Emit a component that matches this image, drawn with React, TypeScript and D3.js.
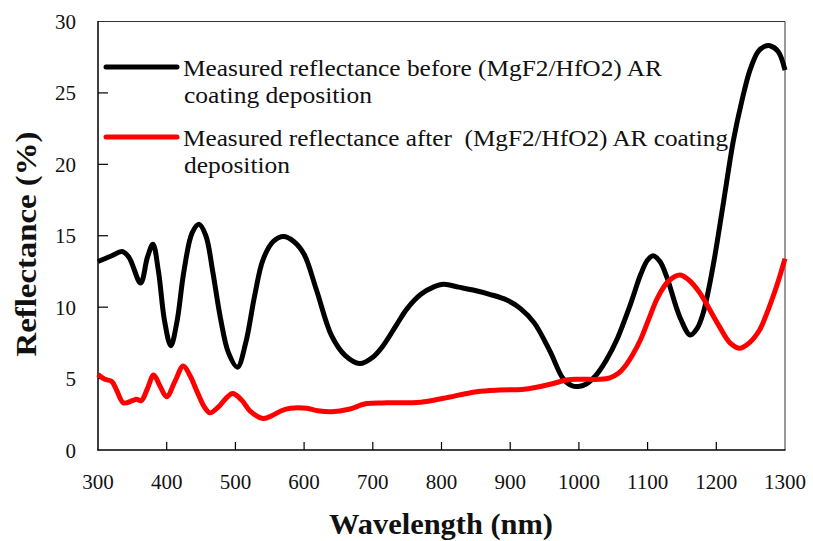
import React from "react";
import * as d3 from "d3";

const W = 813;
const H = 541;

// Wavelength (nm) and reflectance (%) — measured before AR coating
const beforeWl = [300, 320, 335, 345, 362, 372, 380, 388, 397, 406, 415, 425, 437, 447, 457, 467, 478, 490, 503, 515, 528, 540, 555, 570, 585, 600, 618, 640, 660, 681, 700, 715, 735, 750, 770, 788, 803, 825, 846, 870, 895, 915, 935, 958, 977, 990, 999, 1010, 1026, 1040, 1055, 1075, 1090, 1100, 1108, 1118, 1128, 1147, 1162, 1172, 1181, 1195, 1210, 1225, 1237, 1249, 1261, 1270, 1278, 1290, 1300];
const beforeR = [13.2, 13.6, 13.9, 13.5, 11.7, 13.5, 14.4, 12.5, 9.0, 7.3, 9.0, 12.5, 15.2, 15.8, 15.0, 12.5, 9.3, 6.8, 5.8, 7.5, 10.8, 13.3, 14.6, 14.95, 14.6, 13.7, 11.2, 8.0, 6.6, 6.05, 6.5, 7.3, 8.8, 9.9, 10.9, 11.4, 11.6, 11.4, 11.2, 10.9, 10.5, 9.9, 8.9, 6.9, 5.0, 4.5, 4.45, 4.6, 5.3, 6.3, 7.7, 10.2, 12.3, 13.3, 13.6, 13.2, 12.1, 9.3, 8.05, 8.5, 9.6, 12.8, 17.2, 21.7, 24.4, 26.6, 27.9, 28.25, 28.3, 27.9, 26.6];

// measured after AR coating
const afterWl = [300, 310, 320, 327, 337, 350, 356, 363, 372, 381, 390, 400, 412, 424, 434, 445, 455, 463, 475, 486, 496, 509, 522, 540, 555, 567, 580, 604, 620, 640, 665, 691, 720, 770, 803, 851, 885, 920, 958, 982, 1000, 1030, 1045, 1057, 1067, 1078, 1090, 1102, 1115, 1130, 1147, 1160, 1176, 1186, 1205, 1220, 1234, 1248, 1263, 1273, 1283, 1292, 1300];
const afterR = [5.3, 4.95, 4.8, 4.2, 3.3, 3.45, 3.55, 3.45, 4.3, 5.25, 4.5, 3.73, 4.8, 5.88, 5.2, 4.0, 3.0, 2.6, 3.0, 3.6, 3.95, 3.5, 2.7, 2.2, 2.45, 2.75, 2.92, 2.92, 2.75, 2.68, 2.85, 3.25, 3.3, 3.35, 3.62, 4.08, 4.2, 4.25, 4.6, 4.9, 4.95, 4.95, 5.05, 5.35, 5.85, 6.65, 7.75, 9.2, 10.7, 11.8, 12.25, 11.9, 11.0, 10.2, 8.6, 7.5, 7.12, 7.5, 8.4, 9.5, 10.8, 12.1, 13.4];

const xTicks = [300, 400, 500, 600, 700, 800, 900, 1000, 1100, 1200, 1300];
const yTicks = [0, 5, 10, 15, 20, 25, 30];

const legendLabels = [
  ["Measured reflectance before (MgF2/HfO2) AR", "coating deposition"],
  ["Measured reflectance after  (MgF2/HfO2) AR coating", "deposition"],
];
const seriesColors = ["#000000", "#ff0000"];

export default function App() {
  const x = d3.scaleLinear().domain([300, 1300]).range([98, 785]);
  const y = d3.scaleLinear().domain([0, 30]).range([450, 21.5]);
  const line = d3
    .line<[number, number]>()
    .x((d) => x(d[0]))
    .y((d) => y(d[1]))
    .curve(d3.curveCatmullRom.alpha(0.5));

  const before = beforeWl.map((w, i) => [w, beforeR[i]] as [number, number]);
  const after = afterWl.map((w, i) => [w, afterR[i]] as [number, number]);

  const font = "Liberation Serif";
  const legendY = [67, 137];
  const textLens = [
    [479, 188],
    [545, 106],
  ];
  const tStyle = { fontFamily: font, whiteSpace: "pre" as const };

  return (
    <svg
      width={W}
      height={H}
      style={{ position: "absolute", left: 0, top: 0, background: "#fff" }}
    >
      {/* frame */}
      <line x1={98} y1={21.5} x2={785} y2={21.5} stroke="#333" strokeWidth={1} />
      <line x1={785} y1={21.5} x2={785} y2={450} stroke="#333" strokeWidth={1} />
      <line x1={98} y1={21} x2={98} y2={450.5} stroke="#000" strokeWidth={1.5} />
      <line x1={97.5} y1={450} x2={785.5} y2={450} stroke="#000" strokeWidth={1.5} />

      {yTicks.map((t) => (
        <g key={"y" + t}>
          {t > 0 && t < 30 && (
            <line x1={98} x2={108} y1={y(t)} y2={y(t)} stroke="#000" strokeWidth={1.2} />
          )}
          <text x={76} y={y(t) + 7.5} textAnchor="end" fontSize={21} fill="#111" style={tStyle}>
            {t}
          </text>
        </g>
      ))}
      {xTicks.map((t) => (
        <g key={"x" + t}>
          {t > 300 && t < 1300 && (
            <line x1={x(t)} x2={x(t)} y1={450} y2={442} stroke="#000" strokeWidth={1.2} />
          )}
          <text x={x(t)} y={489} textAnchor="middle" fontSize={21} fill="#111" style={tStyle}>
            {t}
          </text>
        </g>
      ))}

      <path d={line(before) || ""} fill="none" stroke={seriesColors[0]} strokeWidth={5} strokeLinejoin="round" />
      <path d={line(after) || ""} fill="none" stroke={seriesColors[1]} strokeWidth={5} strokeLinejoin="round" />

      {legendLabels.map((lab, i) => (
        <g key={"lg" + i}>
          <line
            x1={106}
            x2={177}
            y1={legendY[i]}
            y2={legendY[i]}
            stroke={seriesColors[i]}
            strokeWidth={5}
            strokeLinecap="round"
          />
          <text x={183} y={legendY[i] + 9} fontSize={23} fill="#111" style={tStyle} textLength={textLens[i][0]} lengthAdjust="spacingAndGlyphs">
            {lab[0]}
          </text>
          <text x={184} y={legendY[i] + 36} fontSize={23} fill="#111" style={tStyle} textLength={textLens[i][1]} lengthAdjust="spacingAndGlyphs">
            {lab[1]}
          </text>
        </g>
      ))}

      <text
        x={441}
        y={534}
        textAnchor="middle"
        fontSize={29}
        fontWeight="bold"
        fill="#111"
        style={tStyle}
        textLength={224}
        lengthAdjust="spacingAndGlyphs"
      >
        Wavelength (nm)
      </text>
      <text
        transform={`translate(36,244) rotate(-90)`}
        textAnchor="middle"
        fontSize={29}
        fontWeight="bold"
        fill="#111"
        style={tStyle}
        textLength={225}
        lengthAdjust="spacingAndGlyphs"
      >
        Reflectance (%)
      </text>
    </svg>
  );
}
